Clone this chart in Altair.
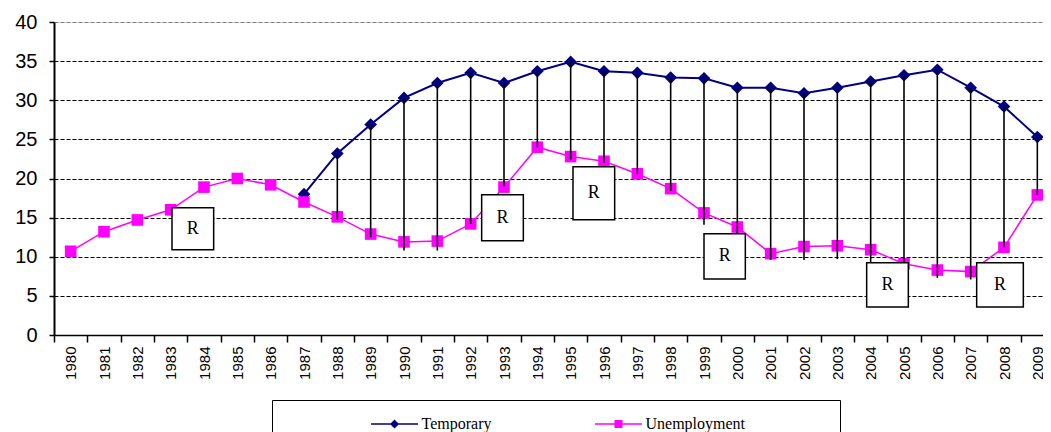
import altair as alt
import pandas as pd

# ---- data ----
years = list(range(1980, 2010))
unemployment = [10.7, 13.2, 14.7, 16.0, 18.9, 20.0, 19.2, 17.0, 15.1, 12.9,
                11.9, 12.0, 14.2, 18.9, 24.0, 22.8, 22.2, 20.6, 18.7, 15.6,
                13.8, 10.4, 11.3, 11.4, 10.9, 9.1, 8.3, 8.1, 11.2, 17.9]
temp_years = list(range(1987, 2010))
temporary = [18.0, 23.2, 26.9, 30.3, 32.2, 33.5, 32.2, 33.7, 34.9, 33.7,
             33.5, 32.9, 32.8, 31.6, 31.6, 30.9, 31.6, 32.4, 33.2, 33.9,
             31.6, 29.2, 25.3]
rule_years = list(range(1988, 2010))
rule_bottom = [14.7, 12.5, 10.8, 10.8, 14.2, 19.0, 24.0, 22.4, 22.0, 20.6,
               18.4, 14.1, 13.0, 9.6, 9.6, 9.7, 9.3, 8.8, 7.3, 7.1, 11.2, 17.9]
# "R" annotation boxes (year span, value span)
box_x0 = [1983.04, 1992.33, 1995.07, 1999.00, 2003.88, 2007.18]
box_x1 = [1984.29, 1993.58, 1996.32, 2000.24, 2005.13, 2008.58]
box_y0 = [10.88, 12.03, 14.72, 7.17, 3.58, 3.58]
box_y1 = [16.26, 17.92, 21.50, 12.93, 9.22, 9.22]
box_label = ["R"] * 6
series_names = ["Temporary", "Unemployment"]
series_colors = ["#000080", "#FF00FF"]
y_ticks = [0, 5, 10, 15, 20, 25, 30, 35, 40]

# ---- tables ----
unemp_df = pd.DataFrame({"year": years, "value": unemployment})
temp_df = pd.DataFrame({"year": temp_years, "value": temporary})
temp_lookup = dict(zip(temp_years, temporary))
rule_df = pd.DataFrame({"year": rule_years,
                        "top": [temp_lookup[y] for y in rule_years],
                        "bottom": rule_bottom})
box_df = pd.DataFrame({"x0": box_x0, "x1": box_x1, "y0": box_y0, "y1": box_y1,
                       "label": box_label,
                       "xc": [(a + b) / 2 for a, b in zip(box_x0, box_x1)],
                       "yc": [(a + b) / 2 for a, b in zip(box_y0, box_y1)]})
legend_df = pd.DataFrame({"series": series_names, "year": [None, None],
                          "value": [None, None]})

x_ticks = sorted([y - 0.5 for y in years] + years)

x_scale = alt.Scale(domain=[1979.5, 2009.17], nice=False, zero=False)
y_scale = alt.Scale(domain=[0, 40], nice=False, zero=True)

x_axis = alt.Axis(
    values=x_ticks,
    labelExpr="datum.value % 1 == 0 ? format(datum.value, 'd') : ''",
    labelAngle=270, labelFont="Liberation Sans", labelFontSize=15,
    labelColor="black", labelPadding=4, labelOverlap=False, labelFlush=False,
    labelBound=False,
    tickColor={"condition": {"test": "datum.value % 1 != 0", "value": "black"},
               "value": "transparent"},
    tickSize=7, tickWidth=1.5, domainColor="black", domainWidth=1.5,
    grid=False, title=None)

y_axis = alt.Axis(
    values=y_ticks, labelFont="Liberation Sans", labelFontSize=20,
    labelColor="black", labelPadding=12, tickSize=5, tickColor="black",
    tickWidth=1.5, domainColor="black", domainWidth=2, grid=True,
    gridColor={"condition": {"test": "datum.value == 40", "value": "#808080"},
               "value": "black"},
    gridDash=[4, 2], gridWidth=1.2, title=None, labelFlush=False)

X = alt.X("year:Q", scale=x_scale, axis=x_axis)
Y = alt.Y("value:Q", scale=y_scale, axis=y_axis)

temp_line = alt.Chart(temp_df).mark_line(color="#000080", strokeWidth=2).encode(x=X, y=Y)
temp_pts = alt.Chart(temp_df).mark_point(shape="diamond", filled=True, size=160,
                                         color="#000080", opacity=1).encode(x=X, y=Y)
unemp_line = alt.Chart(unemp_df).mark_line(color="#FF00FF", strokeWidth=1.5).encode(x=X, y=Y)
unemp_pts = alt.Chart(unemp_df).mark_point(shape="square", filled=True, size=135,
                                           color="#FF00FF", opacity=1).encode(x=X, y=Y)
rules = alt.Chart(rule_df).mark_rule(color="black", strokeWidth=1.6).encode(
    x=alt.X("year:Q", scale=x_scale, axis=x_axis),
    y=alt.Y("top:Q", scale=y_scale, axis=y_axis),
    y2="bottom:Q")
boxes = alt.Chart(box_df).mark_rect(fill="white", stroke="black", strokeWidth=1.5).encode(
    x=alt.X("x0:Q", scale=x_scale, axis=x_axis), x2="x1:Q",
    y=alt.Y("y0:Q", scale=y_scale, axis=y_axis), y2="y1:Q")
box_text = alt.Chart(box_df).mark_text(font="Liberation Serif", fontSize=18,
                                       color="black").encode(
    x=alt.X("xc:Q", scale=x_scale, axis=x_axis),
    y=alt.Y("yc:Q", scale=y_scale, axis=y_axis),
    text="label:N")

# legend symbols: a line with a marker, size 400 -> unit = 10px
diamond_path = "M-2.35,-0.08H2.35V0.08H-2.35Z M0,-0.45L0.45,0L0,0.45L-0.45,0Z"
square_path = ("M-2.35,-0.08H2.35V0.08H-2.35Z M-0.4,-0.4H0.4V0.4H-0.4Z "
               "M20.5,0L20.55,0")
legend_kw = dict(
    orient="none", legendX=218, legendY=378, direction="horizontal",
    title="\u00a0", titleOrient="left", titleFontSize=1, titlePadding=85,
    padding=13, strokeColor="black", fillColor="white", columnPadding=100,
    symbolOffset=13.5, labelOffset=16, labelLimit=400,
    labelFont="Liberation Serif", labelFontSize=16, labelColor="black",
    symbolSize=400, symbolOpacity=1)
legend_layer = alt.Chart(legend_df).mark_point(filled=True, size=400).encode(
    x=alt.X("year:Q", scale=x_scale, axis=x_axis),
    y=alt.Y("value:Q", scale=y_scale, axis=y_axis),
    fill=alt.Fill("series:N", scale=alt.Scale(domain=series_names, range=series_colors),
                  legend=alt.Legend(**legend_kw)),
    shape=alt.Shape("series:N", scale=alt.Scale(domain=series_names,
                                                range=[diamond_path, square_path]),
                    legend=alt.Legend(**legend_kw)),
)

chart = alt.layer(
    temp_line, unemp_line, temp_pts, unemp_pts, rules, boxes, box_text, legend_layer
).properties(
    width=989, height=313,
    autosize=alt.AutoSizeParams(type="none"),
    padding={"left": 46, "top": 14, "right": 0, "bottom": 97},
).configure_view(stroke=None).configure(background="white")

chart.save("out.html", embed_options={"renderer": "svg", "actions": False})
